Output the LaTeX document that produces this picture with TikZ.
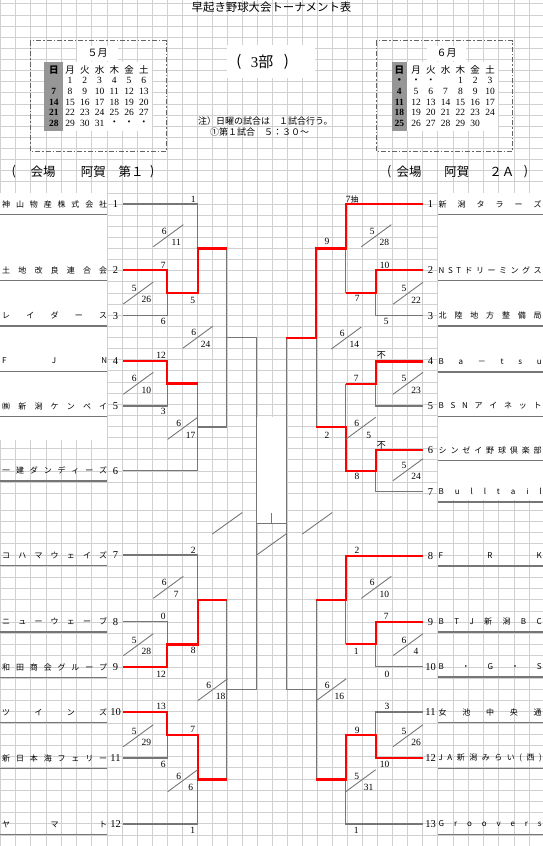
\documentclass[tikz,border=0pt]{standalone}
\usepackage{fontspec}
\setmainfont{Liberation Serif}
\newfontfamily\jp{Noto Sans CJK JP}
\definecolor{gridgray}{RGB}{208,208,208}
\definecolor{linegray}{RGB}{118,118,118}
\definecolor{sunshade}{RGB}{150,150,150}
\definecolor{boxgray}{RGB}{100,100,100}

% spread the letters of a team name over a fixed width
\makeatletter
\newcommand\spreadname[2]{\makebox[#1][s]{\@tfor\nm@ch:=#2\do{\nm@ch\hfil}\unskip}}
\makeatother
\newcommand\nodot{{\jp ・}}

\begin{document}
\begin{tikzpicture}[x=1pt, y=-1pt, line join=miter,
  gridline/.style={draw=gridgray, line width=0.7pt},
  lose/.style={draw=linegray, line width=1.3pt},
  win/.style={draw=red, line width=2.3pt},
  uline/.style={draw=linegray, line width=1.6pt},
  slash/.style={draw=linegray, line width=0.9pt},
  num/.style={inner sep=0pt, minimum width=15pt, font=\fontsize{10.5}{10.5}\selectfont},
  score/.style={inner sep=0pt, font=\fontsize{9.5}{9.5}\selectfont},
  tname/.style={inner sep=0pt, anchor=west, font=\jp\fontsize{8}{8}\selectfont},
  calbox/.style={draw=boxgray, line width=0.9pt, dash pattern=on 5pt off 2pt on 1.5pt off 2pt},
  calday/.style={inner sep=0pt, font=\fontsize{9.5}{9.5}\selectfont},
  calsun/.style={inner sep=0pt, font=\bfseries\fontsize{9.5}{9.5}\selectfont},
  calhead/.style={inner sep=0pt, font=\jp\fontsize{9.5}{9.5}\selectfont},
  venue/.style={inner sep=0pt, font=\jp\fontsize{12.5}{12.5}\selectfont}]

\useasboundingbox (0,0) rectangle (543,846);

% background grid
\foreach \x in {0,15.3,...,108} \draw[gridline] (\x,0) -- (\x,846);
\foreach \x in {122.5,137.5,...,438} \draw[gridline] (\x,0) -- (\x,846);
\foreach \x in {453.2,468.4,...,543} \draw[gridline] (\x,0) -- (\x,846);
\foreach \k in {-18,...,26} \draw[gridline] (0,{204+11.12*\k}) -- (543,{204+11.12*\k});
\foreach \k in {-4,...,26} \draw[gridline] (0,{555+11.2*\k}) -- (543,{555+11.2*\k});

% white cells
\fill[white] (0,193) rectangle (107.3,440);
\fill[white] (438,193) rectangle (543,500);
\fill[white] (256.7,417) rectangle (286.3,523.3);
\fill[white] (226.6,45) rectangle (315,77.9);

% title and notes
\node[inner sep=0pt, font=\jp\fontsize{11.4}{11.4}\selectfont] (title) at (271.5,7.6) {早起き野球大会トーナメント表};
\node[inner sep=0pt, font=\jp\fontsize{15}{15}\selectfont] (bpl) at (238.8,62.3) {(};
\node[inner sep=0pt, font=\jp\fontsize{15}{15}\selectfont] (bu) at (262,62.3) {{\rmfamily 3}部};
\node[inner sep=0pt, font=\jp\fontsize{15}{15}\selectfont] (bpr) at (286.5,62.3) {)};
\node[inner sep=0pt, anchor=west, font=\jp\fontsize{9}{9}\selectfont] (note1) at (198,121.1) {注）日曜の試合は　１試合行う。};
\node[inner sep=0pt, anchor=west, font=\jp\fontsize{9}{9}\selectfont] (note2) at (210,132.2) {①第１試合　５：３０～};

% May calendar
\fill[white] (77,46) rectangle (118,61);
\fill[white] (44.3,62.3) rectangle (151.5,131);
\fill[sunshade] (44.3,62.3) rectangle (63.3,131);
\draw[calbox] (30,40.7) rectangle (166.7,151.2);
\node[calhead, font=\jp\fontsize{10}{10}\selectfont] (mayT) at (97.7,53.3) {５月};
\node[calhead, font=\jp\bfseries\fontsize{9.5}{9.5}\selectfont] (mayH1) at (53.8,70) {日};
\foreach \d [count=\c from 2] in {月,火,水,木,金,土}
  \node[calhead] (mayH\c) at ({70+14.75*(\c-2)},70) {\d};
\foreach \row [count=\r] in {{{},1,2,3,4,5,6},{7,8,9,10,11,12,13},{14,15,16,17,18,19,20},{21,22,23,24,25,26,27},{28,29,30,31,\nodot,\nodot,\nodot}}
  \foreach \d [count=\c] in \row {
    \ifnum\c=1
      \node[calsun] (may\r-\c) at (53.8,{70+10.7*\r}) {\d};
    \else
      \node[calday] (may\r-\c) at ({70+14.75*(\c-2)},{70+10.7*\r}) {\d};
    \fi
  }

% June calendar
\fill[white] (427,46) rectangle (466,61);
\fill[white] (391.7,62.3) rectangle (498,131);
\fill[sunshade] (391.7,62.3) rectangle (406.7,131);
\draw[calbox] (376,40.7) rectangle (512.7,151.2);
\node[calhead, font=\jp\fontsize{10}{10}\selectfont] (junT) at (446.7,53.3) {６月};
\node[calhead, font=\jp\bfseries\fontsize{9.5}{9.5}\selectfont] (junH1) at (399.3,70) {日};
\foreach \d [count=\c from 2] in {月,火,水,木,金,土}
  \node[calhead] (junH\c) at ({416+14.8*(\c-2)},70) {\d};
\foreach \row [count=\r] in {{\nodot,\nodot,\nodot,{},1,2,3},{4,5,6,7,8,9,10},{11,12,13,14,15,16,17},{18,19,20,21,22,23,24},{25,26,27,28,29,30,{}}}
  \foreach \d [count=\c] in \row {
    \ifnum\c=1
      \node[calsun] (jun\r-\c) at (399.3,{70+10.7*\r}) {\d};
    \else
      \node[calday] (jun\r-\c) at ({416+14.8*(\c-2)},{70+10.7*\r}) {\d};
    \fi
  }

% venues
\node[venue] (vl1) at (13.8,172) {(};
\node[venue] (vl2) at (43.2,172) {会場};
\node[venue] (vl3) at (93.4,172) {阿賀};
\node[venue] (vl4) at (131,172) {第１};
\node[venue] (vl5) at (152.2,172) {)};
\node[venue] (vr1) at (389.3,172) {(};
\node[venue] (vr2) at (409.2,172) {会場};
\node[venue] (vr3) at (456.8,172) {阿賀};
\node[venue] (vr4) at (501.8,172) {２Ａ};
\node[venue] (vr5) at (526,172) {)};

% team numbers and underlines
\foreach \n/\y in {1/204, 2/270, 3/315.7, 4/361, 5/406, 6/470.7, 7/555, 8/621.7, 9/667, 10/712, 11/758, 12/824} {
  \node[num] (nL\n) at (115.5,\y) {\n};
  \draw[uline] (0,{\y+10.5}) -- (107.3,{\y+10.5});
}
\foreach \n/\y in {1/204, 2/270, 3/315.7, 4/361.5, 5/406, 6/450, 7/491.7, 8/555.7, 9/621.7, 10/666.7, 11/712, 12/758, 13/824} {
  \node[num] (nR\n) at (430.5,\y) {\n};
  \draw[uline] (438,{\y+10.5}) -- (543,{\y+10.5});
}

% team names, left
\node[tname] (tL1) at (2,204) {\spreadname{105pt}{神山物産株式会社}};
\node[tname] (tL2) at (2,270) {\spreadname{105pt}{土地改良連合会}};
\node[tname] (tL3) at (2,315.7) {\spreadname{105pt}{レイダース}};
\node[tname] (tL4) at (2,361) {\spreadname{105pt}{FJN}};
\node[tname] (tL5) at (2,406) {\spreadname{105pt}{㈱新潟ケンペイ}};
\node[tname] (tL6) at (2,470.7) {\spreadname{105pt}{一建ダンディーズ}};
\node[tname] (tL7) at (2,555) {\spreadname{105pt}{コハマウェイズ}};
\node[tname] (tL8) at (2,621.7) {\spreadname{105pt}{ニューウェーブ}};
\node[tname] (tL9) at (2,667) {\spreadname{105pt}{和田商会グループ}};
\node[tname] (tL10) at (2,712) {\spreadname{105pt}{ツインズ}};
\node[tname] (tL11) at (2,758) {\spreadname{105pt}{新日本海フェリー}};
\node[tname] (tL12) at (2,824) {\spreadname{105pt}{ヤマト}};

% team names, right
\node[tname] (tR1) at (438.5,204) {\spreadname{103pt}{新潟タラーズ}};
\node[tname] (tR2) at (438.5,270) {\spreadname{103pt}{NSTドリーミングス}};
\node[tname] (tR3) at (438.5,315.7) {\spreadname{103pt}{北陸地方整備局}};
\node[tname] (tR4) at (438.5,361.5) {\spreadname{103pt}{Ba－tsu}};
\node[tname] (tR5) at (438.5,406) {\spreadname{103pt}{BSNアイネット}};
\node[tname] (tR6) at (438.5,450) {\spreadname{103pt}{シンゼイ野球倶楽部}};
\node[tname] (tR7) at (438.5,491.7) {\spreadname{103pt}{Bulltail}};
\node[tname] (tR8) at (438.5,555.7) {\spreadname{103pt}{FRK}};
\node[tname] (tR9) at (438.5,621.7) {\spreadname{103pt}{BTJ新潟BC}};
\node[tname] (tR10) at (438.5,666.7) {\spreadname{103pt}{B・G・S}};
\node[tname] (tR11) at (438.5,712) {\spreadname{103pt}{女池中央通}};
\node[tname] (tR12) at (438.5,758) {\spreadname{103pt}{JA新潟みらい(西)}};
\node[tname] (tR13) at (438.5,824) {\spreadname{103pt}{Groovers}};

% match points
\coordinate (mL23) at (167.3,292.9);
\coordinate (mL1) at (197.7,248.4);
\coordinate (mL45) at (167.3,383.5);
\coordinate (mL6) at (197.7,427.1);
\coordinate (mLt) at (226.7,337.8);
\coordinate (mL89) at (167.3,644.4);
\coordinate (mL7) at (197.7,599.7);
\coordinate (mL1011) at (167.3,735);
\coordinate (mL12) at (197.7,779.5);
\coordinate (mLb) at (226.7,689.6);
\coordinate (mR23) at (375.7,292.9);
\coordinate (mR1) at (345.7,248.4);
\coordinate (mR45) at (375.7,383.8);
\coordinate (mR67) at (375.7,470.9);
\coordinate (mR4567) at (345.7,427.3);
\coordinate (mRt) at (316.3,337.9);
\coordinate (mR910) at (375.7,644.2);
\coordinate (mR8) at (345.7,600);
\coordinate (mR1112) at (375.7,735);
\coordinate (mR13) at (345.7,779.5);
\coordinate (mRb) at (316.3,689.7);
\coordinate (cL) at (256.7,523.3);
\coordinate (cR) at (286.3,523.3);
\coordinate (fin) at (271.5,512.7);

% lines still open or lost
\draw[lose] (nL1.east) -| (mL1);
\draw[lose] (nL3.east) -| (mL23);
\draw[lose] (nL5.east) -| (mL45);
\draw[lose] (nL6.east) -| (mL45 -| mL6);
\draw[lose] (mL6) -- (mL6 -| mLt);
\draw[lose] (mL1 -| mLt) -- (mL6 -| mLt);
\draw[lose] (nL7.east) -| (mL7);
\draw[lose] (nL8.east) -| (mL89);
\draw[lose] (nL11.east) -| (mL1011);
\draw[lose] (nL12.east) -| (mL12);
\draw[lose] (mL7 -| mLb) -- (mL12 -| mLb);
\draw[lose] (mLt) -- (mLt -| cL) -- (mLb -| cL) -- (mLb);
\draw[lose] (cL) -- (cR);
\draw[lose] (fin |- cL) -- (fin);
\draw[lose] (mRt) -- (mRt -| cR) -- (mRb -| cR) -- (mRb);
\draw[lose] (nR3.west) -| (mR23);
\draw[lose] (mR1) -- (mR23 -| mR1);
\draw[lose] (nR5.west) -| (mR45);
\draw[lose] (nR7.west) -| (mR67);
\draw[lose] (mR45 -| mR4567) -- (mR4567);
\draw[lose] (mRt) -- (mR4567 -| mRt);
\draw[lose] (nR10.west) -| (mR910);
\draw[lose] (mR8) -- (mR910 -| mR8);
\draw[lose] (nR11.west) -| (mR1112);
\draw[lose] (nR13.west) -| (mR13);
\draw[lose] (mR8 -| mRb) -- (mR13 -| mRb);

% winners
\draw[win] (nL2.east) -| (mL23) -- (mL23 -| mL1) |- (mL1 -| mLt);
\draw[win] (nL4.east) -| (mL45) -- (mL45 -| mL6);
\draw[win] (nL9.east) -| (mL89) -- (mL89 -| mL7) |- (mL7 -| mLb);
\draw[win] (nL10.east) -| (mL1011) -- (mL1011 -| mL12) |- (mL12 -| mLb);
\draw[win] (nR1.west) -| (mR1) -- (mR1 -| mRt) |- (mRt -| cR);
\draw[win] (nR2.west) -| (mR23) -- (mR23 -| mR1);
\draw[win] (nR4.west) -| (mR45) -- (mR45 -| mR4567);
\draw[win] (nR6.west) -| (mR67) -- (mR67 -| mR4567) |- (mR4567 -| mRt);
\draw[win] (nR8.west) -| (mR8) -- (mR8 -| mRb);
\draw[win] (nR9.west) -| (mR910) -- (mR910 -| mR8);
\draw[win] (nR12.west) -| (mR1112) -- (mR1112 -| mR13) |- (mR13 -| mRb);

% dates of the games
\foreach \x/\y/\m/\d [count=\i] in {153.3/246.7/6/11, 123.3/304/5/26, 182.7/348.3/6/24, 123.3/394.3/6/10, 167.7/439.3/6/17, 153.3/598.3/6/7, 123.3/655.7/5/28, 197.7/700.7/6/18, 123.3/746.7/5/29, 167.7/791.7/6/6, 361.3/246.7/5/28, 393/304.3/5/22, 331.3/349/6/14, 393/394.3/5/23, 345.7/439.3/6/5, 393/480.7/5/24, 361.3/598.3/6/10, 393/655.7/6/4, 316.3/700.7/6/16, 393/746.7/5/26, 345.7/791.7/5/31} {
  \draw[slash] (\x,\y) -- ++(30,-22);
  \node[score] (mo\i) at ({\x+11},{\y-15.5}) {\m};
  \node[score] (dy\i) at ({\x+23},{\y-4.3}) {\d};
}
\foreach \x/\y in {212.3/534, 256.7/555, 302.3/534}
  \draw[slash] (\x,\y) -- ++(30,-21.5);

% scores
\foreach \x/\y/\t [count=\i] in {193.3/199.3/1, 163.3/265/7, 192.7/300/5, 163.3/321.7/6, 161/355/12, 163.3/411.7/3, 193.3/550.7/2, 163.3/616/0, 193.3/650.7/8, 161/674/12, 161/706.7/13, 192.7/729.3/7, 163.3/764.3/6, 192.7/830/1}
  \node[score] (scL\i) at (\x,\y) {\t};
\foreach \x/\y/\t [count=\i] in {352.3/199.3/{7{\jp\fontsize{8}{8}\selectfont 抽}}, 327/241.7/9, 384.7/265/10, 357.3/298.3/7, 386.3/321.7/5, 381.3/355/{\jp\fontsize{9}{9}\selectfont 不}, 356.3/378.3/7, 327/435/2, 381.3/445/{\jp\fontsize{9}{9}\selectfont 不}, 357/476.7/8, 357/550/2, 386.3/616/7, 356.3/651.7/1, 387/674/0, 387/706.7/3, 357.3/730/9, 384.7/764.3/10, 356.3/830/1}
  \node[score] (scR\i) at (\x,\y) {\t};

\end{tikzpicture}
\end{document}
